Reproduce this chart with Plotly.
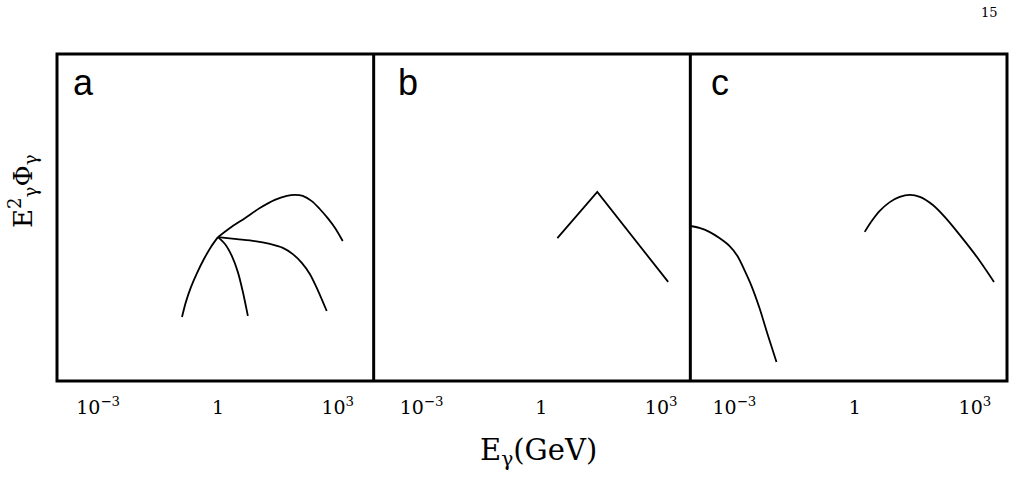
import plotly.graph_objects as go
from plotly.subplots import make_subplots

# ---- data (E in GeV, flux in arbitrary units) ----
a_rise_E = [0.126, 0.158, 0.211, 0.299, 0.447, 0.668, 1.0]
a_rise_F = [1.96, 2.42, 2.87, 3.30, 3.73, 4.10, 4.40]

a_upper_E = [1.0, 2.0, 4.73, 11.2, 26.6, 53.1, 84.1, 133, 224, 355, 562, 891, 1334]
a_upper_F = [4.40, 4.68, 4.98, 5.29, 5.54, 5.66, 5.69, 5.66, 5.50, 5.26, 4.98, 4.65, 4.28]

a_mid_E = [1.0, 2.99, 8.41, 20.0, 42.2, 75.0, 126, 200, 316, 531]
a_mid_F = [4.40, 4.34, 4.28, 4.19, 4.07, 3.88, 3.61, 3.27, 2.78, 2.14]

a_low_E = [1.0, 1.50, 2.24, 3.16, 4.22, 5.62]
a_low_F = [4.40, 4.19, 3.82, 3.33, 2.72, 1.99]

b_E = [2.51, 25.1, 1496]
b_F = [4.37, 5.78, 3.03]

c_left_E = [7.94e-5, 1.33e-4, 2.37e-4, 4.22e-4, 7.50e-4, 1.19e-3, 1.78e-3, 2.66e-3, 4.22e-3, 6.68e-3, 1.12e-2]
c_left_F = [4.74, 4.68, 4.56, 4.37, 4.13, 3.82, 3.39, 2.91, 2.23, 1.44, 0.58]

c_right_E = [1.78, 2.66, 4.22, 7.50, 13.3, 23.7, 42.2, 89.1, 188, 422, 1122, 2985]
c_right_F = [4.56, 4.89, 5.20, 5.47, 5.63, 5.69, 5.63, 5.38, 4.98, 4.46, 3.79, 3.03]

tick_vals = [1e-3, 1, 1e3]
tick_text = ["10<sup>−3</sup>", "1", "10<sup>3</sup>"]
panel_labels = ["a", "b", "c"]
x_ranges = [[-4.03, 3.9], [-4.2, 3.73], [-4.1, 3.8]]

fig = make_subplots(rows=1, cols=3, horizontal_spacing=0)

line = dict(color="black", width=1.8)

def add(E, F, col, shape="spline"):
    fig.add_trace(go.Scatter(x=E, y=F, mode="lines", line=dict(line, shape=shape, smoothing=0.8),
                             showlegend=False, hoverinfo="skip", cliponaxis=True),
                  row=1, col=col)

add(a_rise_E, a_rise_F, 1)
add(a_upper_E, a_upper_F, 1)
add(a_mid_E, a_mid_F, 1)
add(a_low_E, a_low_F, 1)
add(b_E, b_F, 2, shape="linear")
add(c_left_E, c_left_F, 3)
add(c_right_E, c_right_F, 3)

for i in range(3):
    fig.update_xaxes(type="log", range=x_ranges[i], tickvals=tick_vals, ticktext=tick_text,
                     showgrid=False, zeroline=False, showline=False, ticks="",
                     ticklabelstandoff=13,
                     tickfont=dict(family="DejaVu Serif", size=19, color="black"),
                     row=1, col=i + 1)
    fig.update_yaxes(range=[0, 10], showticklabels=False, showgrid=False, zeroline=False,
                     showline=False, ticks="", row=1, col=i + 1)

fig.update_layout(
    width=1016, height=481,
    margin=dict(l=57, r=9, t=54, b=100),
    paper_bgcolor="white", plot_bgcolor="white",
)

xdoms = [fig.layout.xaxis.domain, fig.layout.xaxis2.domain, fig.layout.xaxis3.domain]

# frames
fig.add_shape(type="rect", xref="paper", yref="paper", x0=0, x1=1, y0=0, y1=1,
              line=dict(color="black", width=3), layer="above")
for d in xdoms[1:]:
    fig.add_shape(type="line", xref="paper", yref="paper", x0=d[0], x1=d[0], y0=0, y1=1,
                  line=dict(color="black", width=3), layer="above")

# panel letters
shifts = [14, 22, 19]
for i, lab in enumerate(panel_labels):
    fig.add_annotation(x=xdoms[i][0], y=1, xref="paper", yref="paper", text=lab,
                       showarrow=False, xanchor="left", yanchor="top", xshift=shifts[i], yshift=-6,
                       font=dict(family="Liberation Sans", size=36, color="black"))

# axis titles
fig.add_annotation(x=(538 - 57) / 950, y=(381 - 452) / 327, xref="paper", yref="paper",
                   text="E<sub>γ</sub>(GeV)",
                   showarrow=False, xanchor="center", yanchor="middle",
                   font=dict(family="DejaVu Serif", size=29, color="black"))
fig.add_annotation(x=(22 - 57) / 950, y=(381 - 191) / 327, xref="paper", yref="paper",
                   text="E<sup>2</sup><sub>γ</sub>Φ<sub>γ</sub>", textangle=-90,
                   showarrow=False, xanchor="center", yanchor="middle",
                   font=dict(family="DejaVu Serif", size=26, color="black"))
# page number
fig.add_annotation(x=(1000 - 57) / 950, y=(381 - 12) / 327, xref="paper", yref="paper",
                   text="15", showarrow=False, xanchor="right", yanchor="middle",
                   font=dict(family="DejaVu Serif", size=13, color="black"))

fig.write_html("out.html")
